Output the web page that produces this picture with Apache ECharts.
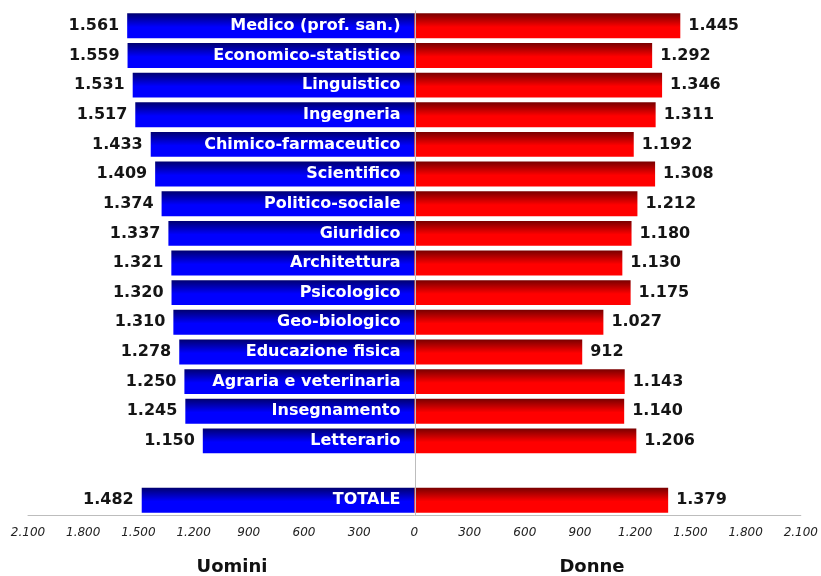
<!DOCTYPE html>
<html>
<head>
<meta charset="utf-8">
<script src="https://cdn.jsdelivr.net/npm/echarts@6/dist/echarts.min.js"></script>
<style>html,body{margin:0;padding:0;background:#fff;}#c{width:821px;height:576px;}</style>
</head>
<body>
<div id="c"></div>
<script>
var categories = ['Medico (prof. san.)','Economico-statistico','Linguistico','Ingegneria','Chimico-farmaceutico','Scientifico','Politico-sociale','Giuridico','Architettura','Psicologico','Geo-biologico','Educazione fisica','Agraria e veterinaria','Insegnamento','Letterario','','TOTALE'];
var uomini = [1561,1559,1531,1517,1433,1409,1374,1337,1321,1320,1310,1278,1250,1245,1150,null,1482];
var donne  = [1445,1292,1346,1311,1192,1308,1212,1180,1130,1175,1027,912,1143,1140,1206,null,1379];
var axisMin = -2100, axisMax = 2100, axisStep = 300;
var groupTitles = ['Uomini','Donne'];

function fmt(v){
  v = Math.abs(Math.round(v));
  if (v >= 1000){
    var r = String(v % 1000);
    while (r.length < 3) r = '0' + r;
    return Math.floor(v/1000) + '.' + r;
  }
  return String(v);
}

var FONT = '"DejaVu Sans", Verdana, sans-serif';
var chart = echarts.init(document.getElementById('c'), null, {renderer:'canvas'});

var blueGrad = new echarts.graphic.LinearGradient(0,0,0,1,[
  {offset:0, color:'#000070'},{offset:0.55, color:'#0000ff'},{offset:1, color:'#0000ff'}]);
var redGrad = new echarts.graphic.LinearGradient(0,0,0,1,[
  {offset:0, color:'#780000'},{offset:0.55, color:'#ff0000'},{offset:1, color:'#ff0000'}]);

chart.setOption({
  animation:false,
  backgroundColor:'#ffffff',
  grid:{left:28, right:18, top:11, bottom:61, containLabel:false},
  xAxis:{
    type:'value', min:axisMin, max:axisMax, interval:axisStep,
    axisLine:{show:true, lineStyle:{color:'#bdbdbd', width:1}},
    axisTick:{show:false},
    splitLine:{show:false},
    axisLabel:{
      formatter:function(v){return fmt(v);},
      fontFamily:FONT, fontStyle:'italic', fontSize:12, color:'#222', margin:12
    }
  },
  yAxis:{
    type:'category', data:categories, inverse:true,
    position:'left', offset:-387.5, z:10,
    axisLine:{show:true, lineStyle:{color:'#bdbdbd', width:1}},
    axisTick:{show:false},
    splitLine:{show:false},
    axisLabel:{
      color:'#ffffff', fontFamily:FONT, fontWeight:'bold', fontSize:16, margin:15
    }
  },
  series:[
    {
      name:'Uomini', type:'bar', stack:'s',
      data:uomini.map(function(v){return v==null?null:-v;}),
      barCategoryGap:'16%',
      itemStyle:{color:blueGrad},
      label:{show:true, position:'left', distance:8,
        formatter:function(p){return fmt(p.value);},
        fontFamily:FONT, fontWeight:'bold', fontSize:16, color:'#151515'}
    },
    {
      name:'Donne', type:'bar', stack:'s',
      data:donne,
      barCategoryGap:'16%',
      itemStyle:{color:redGrad},
      label:{show:true, position:'right', distance:8,
        formatter:function(p){return fmt(p.value);},
        fontFamily:FONT, fontWeight:'bold', fontSize:16, color:'#151515'}
    }
  ],
  graphic:[
    {type:'text', x:232, y:567, style:{text:groupTitles[0], fontFamily:FONT, fontWeight:'bold', fontSize:18, fill:'#111', textAlign:'center', textVerticalAlign:'middle'}},
    {type:'text', x:592, y:567, style:{text:groupTitles[1], fontFamily:FONT, fontWeight:'bold', fontSize:18, fill:'#111', textAlign:'center', textVerticalAlign:'middle'}}
  ]
});
</script>
</body>
</html>
